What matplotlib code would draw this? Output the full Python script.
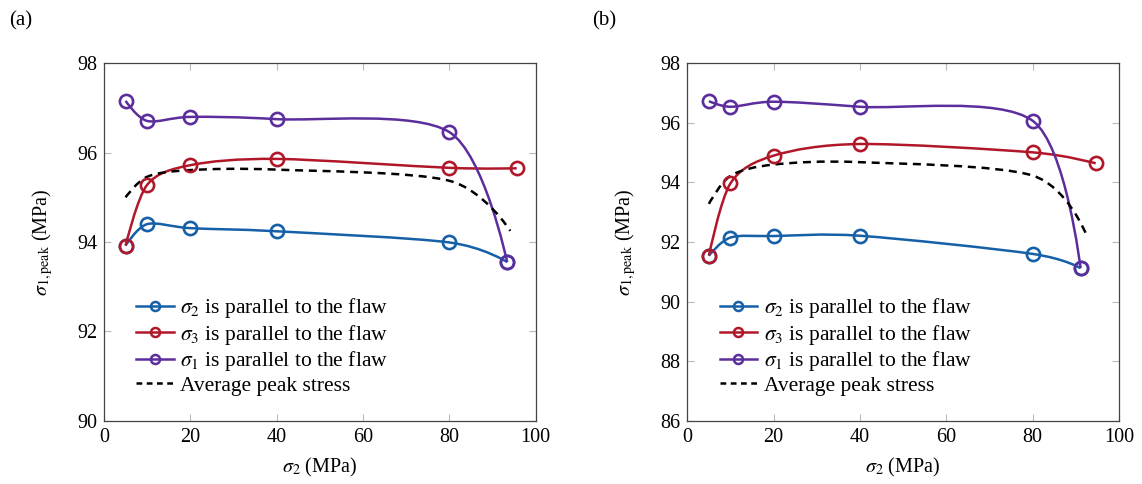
import numpy as np
import matplotlib
matplotlib.use("Agg")
import matplotlib.pyplot as plt
from matplotlib.path import Path
from matplotlib.patches import PathPatch
from matplotlib.lines import Line2D

plt.rcParams["font.family"] = ["Liberation Serif", "DejaVu Serif"]
plt.rcParams["mathtext.fontset"] = "stix"
plt.rcParams["font.size"] = 14.5

# Panel (a)
a_x_s2 = [5, 10, 20, 40, 80, 93.4]
a_y_s2 = [93.92, 94.40, 94.31, 94.24, 93.99, 93.55]
a_x_s3 = [5, 10, 20, 40, 80, 95.6]
a_y_s3 = [93.92, 95.28, 95.72, 95.86, 95.66, 95.65]
a_x_s1 = [5, 10, 20, 40, 80, 93.4]
a_y_s1 = [97.16, 96.71, 96.80, 96.75, 96.46, 93.55]
a_x_avg = [5, 10, 20, 40, 80, 94.1]
a_y_avg = [95.00, 95.46, 95.61, 95.62, 95.37, 94.25]

# Panel (b)
b_x_s2 = [5, 10, 20, 40, 80, 91.1]
b_y_s2 = [91.54, 92.15, 92.20, 92.21, 91.60, 91.12]
b_x_s3 = [5, 10, 20, 40, 80, 94.6]
b_y_s3 = [91.54, 93.97, 94.90, 95.29, 95.01, 94.64]
b_x_s1 = [5, 10, 20, 40, 80, 91.1]
b_y_s1 = [96.73, 96.54, 96.71, 96.54, 96.07, 91.12]
b_x_avg = [5, 10, 20, 40, 80, 92.3]
b_y_avg = [93.28, 94.22, 94.60, 94.68, 94.23, 92.29]

labels = [r"$\sigma_2$ is parallel to the flaw",
          r"$\sigma_3$ is parallel to the flaw",
          r"$\sigma_1$ is parallel to the flaw",
          "Average peak stress"]
blue = "#1660a8"
red = "#b0182a"
purple = "#5c2d9c"


# smooth curve through the points, like tikz "plot smooth"
def smooth_path(x, y, t=0.15):
    pts = np.column_stack([x, y]).astype(float)
    n = len(pts)
    verts = [pts[0]]
    codes = [Path.MOVETO]
    for i in range(n - 1):
        p0, p1 = pts[i], pts[i + 1]
        c1 = p0 if i == 0 else p0 + t * (pts[i + 1] - pts[i - 1])
        c2 = p1 if i == n - 2 else p1 - t * (pts[i + 2] - pts[i])
        verts += [c1, c2, p1]
        codes += [Path.CURVE4] * 3
    return Path(verts, codes)


def draw_series(ax, x, y, color, dashed=False):
    ls = (0, (3.2, 2.3)) if dashed else "-"
    patch = PathPatch(smooth_path(x, y), facecolor="none", edgecolor=color,
                      lw=1.8, linestyle=ls, zorder=2)
    ax.add_patch(patch)
    if not dashed:
        ax.plot(x, y, "o", ms=9.5, mfc="none", mec=color, mew=1.9, zorder=3)


def setup_axes(ax, ylim, yticks, tag):
    ax.set_xlim(0, 100)
    ax.set_ylim(*ylim)
    ax.set_xticks([0, 20, 40, 60, 80, 100])
    ax.set_yticks(yticks)
    ax.tick_params(direction="in", top=True, right=True, length=5,
                   width=0.8, color="#bbbbbb", labelsize=14.5, pad=5)
    for s in ax.spines.values():
        s.set_color("#444444")
        s.set_linewidth(0.9)
    ax.set_xlabel(r"$\sigma_2$ (MPa)", fontsize=14.5, labelpad=7)
    ax.set_ylabel(r"$\sigma_{1,\mathrm{peak}}$ (MPa)", fontsize=14.5, labelpad=16)
    handles = [
        Line2D([], [], color=blue, lw=1.8, marker="o", ms=6.5, mfc="none", mew=1.8),
        Line2D([], [], color=red, lw=1.8, marker="o", ms=6.5, mfc="none", mew=1.8),
        Line2D([], [], color=purple, lw=1.8, marker="o", ms=6.5, mfc="none", mew=1.8),
        Line2D([], [], color="black", lw=1.8, linestyle=(0, (2.3, 1.8))),
    ]
    ax.legend(handles, labels, loc="lower left", frameon=False,
              bbox_to_anchor=(0.055, 0.045), handlelength=1.75,
              handletextpad=0.3, labelspacing=0.12, fontsize=15.5,
              borderaxespad=0)
    ax.text(-0.22, 1.12, tag, transform=ax.transAxes, fontsize=15,
            ha="left", va="center")


fig = plt.figure(figsize=(11.42, 4.84), dpi=100)
ax1 = fig.add_axes([104 / 1142, 1 - 420.7 / 484, 431.7 / 1142, 357.4 / 484])
ax2 = fig.add_axes([687.3 / 1142, 1 - 420.7 / 484, 431.7 / 1142, 357.4 / 484])

draw_series(ax1, a_x_s2, a_y_s2, blue)
draw_series(ax1, a_x_s3, a_y_s3, red)
draw_series(ax1, a_x_s1, a_y_s1, purple)
draw_series(ax1, a_x_avg, a_y_avg, "black", dashed=True)
setup_axes(ax1, (90, 98), [90, 92, 94, 96, 98], "(a)")

draw_series(ax2, b_x_s2, b_y_s2, blue)
draw_series(ax2, b_x_s3, b_y_s3, red)
draw_series(ax2, b_x_s1, b_y_s1, purple)
draw_series(ax2, b_x_avg, b_y_avg, "black", dashed=True)
setup_axes(ax2, (86, 98), [86, 88, 90, 92, 94, 96, 98], "(b)")

fig.savefig("out.png", dpi=100)
